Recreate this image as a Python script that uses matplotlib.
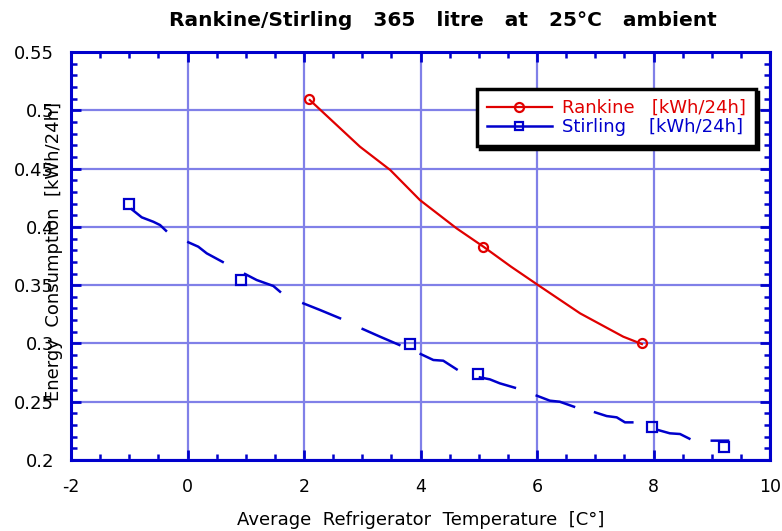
import matplotlib
matplotlib.use("Agg")
import matplotlib.pyplot as plt
from matplotlib.ticker import MultipleLocator

plt.rcParams['font.family'] = ['DejaVu Sans']
plt.rcParams['axes.unicode_minus'] = False

nan = float('nan')

# Rankine curve and its markers
rankine_x = [2.10, 2.56, 2.96, 3.48, 3.99, 4.62, 5.08, 5.55, 6.02, 6.74, 7.48, 7.80]
rankine_y = [0.5088, 0.4874, 0.4688, 0.4488, 0.4230, 0.3987, 0.3830, 0.3660, 0.3500, 0.3258, 0.3058, 0.2995]
rankine_mx = [2.09, 5.08, 7.81]
rankine_my = [0.510, 0.383, 0.3005]

# Stirling curve (broken into pieces) and its markers
stirling_x = [-0.958, -0.786, -0.587, -0.472, -0.369, nan,
              0.014, 0.185, 0.330, 0.604, nan,
              0.987, 1.188, 1.473, 1.588, nan,
              1.988, 2.275, 2.618, nan,
              3.007, 3.305, 3.636, nan,
              4.003, 4.22, 4.39, 4.62, nan,
              5.02, 5.19, 5.36, 5.62, nan,
              5.995, 6.22, 6.39, 6.635, nan,
              6.996, 7.196, 7.368, 7.51, 7.636, nan,
              8.08, 8.28, 8.455, 8.615, nan,
              9.0, 9.28]
stirling_y = [0.4151, 0.4082, 0.4044, 0.4016, 0.3967, nan,
              0.3868, 0.3830, 0.3773, 0.3699, nan,
              0.3596, 0.3544, 0.3493, 0.3444, nan,
              0.3344, 0.3287, 0.3216, nan,
              0.3124, 0.3058, 0.2987, nan,
              0.2909, 0.2858, 0.2852, 0.2778, nan,
              0.2709, 0.2692, 0.2658, 0.2620, nan,
              0.2552, 0.2509, 0.2500, 0.2457, nan,
              0.2409, 0.2377, 0.2366, 0.2323, 0.2323, nan,
              0.2257, 0.2229, 0.2223, 0.2183, nan,
              0.2166, 0.2166]
stirling_mx = [-1.0, 0.92, 3.82, 4.99, 7.97, 9.21]
stirling_my = [0.4196, 0.3544, 0.2995, 0.2735, 0.2286, 0.2114]

red = '#e00000'
blue = '#0000cc'
grid_c = '#8080e8'

fig = plt.figure(figsize=(7.82, 5.31), dpi=100)
ax = fig.add_axes([0.0908, 0.1337, 0.8939, 0.7683])

ax.plot(rankine_x, rankine_y, color=red, lw=1.6, zorder=3)
ax.plot(rankine_mx, rankine_my, ls='none', marker='o', ms=6.5, mfc='none',
        mec=red, mew=1.6, zorder=4)
ax.plot(stirling_x, stirling_y, color=blue, lw=1.8, zorder=3)
ax.plot(stirling_mx, stirling_my, ls='none', marker='s', ms=6.5, mfc='none',
        mec=blue, mew=1.6, zorder=4)

# legend entries
h1, = ax.plot([], [], color=red, lw=1.6, marker='o', ms=6.5, mfc='none', mew=1.6)
h2, = ax.plot([], [], color=blue, lw=1.8, marker='s', ms=5.5, mfc='none', mew=1.6)
leg = ax.legend([h1, h2], ['Rankine   [kWh/24h]', 'Stirling    [kWh/24h]'],
                loc='upper left', bbox_to_anchor=(0.5808, 0.9095), frameon=True,
                fancybox=False, shadow={'color': 'black', 'alpha': 1},
                edgecolor='black', framealpha=1, fontsize=13, handlelength=3.6,
                borderpad=0.55, labelspacing=0.08, handletextpad=0.55, borderaxespad=0)
leg.get_frame().set_linewidth(2.5)
leg.get_texts()[0].set_color(red)
leg.get_texts()[1].set_color(blue)

ax.set_xlim(-2, 10)
ax.set_ylim(0.2, 0.55)
ax.xaxis.set_major_locator(MultipleLocator(2))
ax.xaxis.set_minor_locator(MultipleLocator(0.5))
ax.yaxis.set_minor_locator(MultipleLocator(0.01))
ax.set_yticks([0.2, 0.25, 0.3, 0.35, 0.4, 0.45, 0.5, 0.55])
ax.set_yticklabels(['0.2', '0.25', '0.3', '0.35', '0.4', '0.45', '0.5', '0.55'])

ax.grid(True, which='major', color=grid_c, lw=1.6)
ax.set_axisbelow(True)
for s in ax.spines.values():
    s.set_color(blue)
    s.set_linewidth(2.2)
ax.tick_params(which='both', direction='in', top=True, right=True, color=blue,
               labelcolor='black')
ax.tick_params(which='major', length=7, width=2)
ax.tick_params(which='minor', length=4, width=1.8)
ax.tick_params(axis='x', which='major', labelsize=12.5, pad=13)
ax.tick_params(axis='y', which='major', labelsize=13, pad=12)

ax.set_xlabel('Average  Refrigerator  Temperature  [C°]', fontsize=13, labelpad=11)
ax.set_ylabel('Energy  Consumption  [kWh/24h]', fontsize=13)
ax.yaxis.set_label_coords(-0.012, 0.51)

fig.text(0.566, 0.962, 'Rankine/Stirling   365   litre   at   25°C   ambient',
         ha='center', va='center', fontsize=14.5, fontweight='bold')

fig.savefig('out.png', dpi=100)
